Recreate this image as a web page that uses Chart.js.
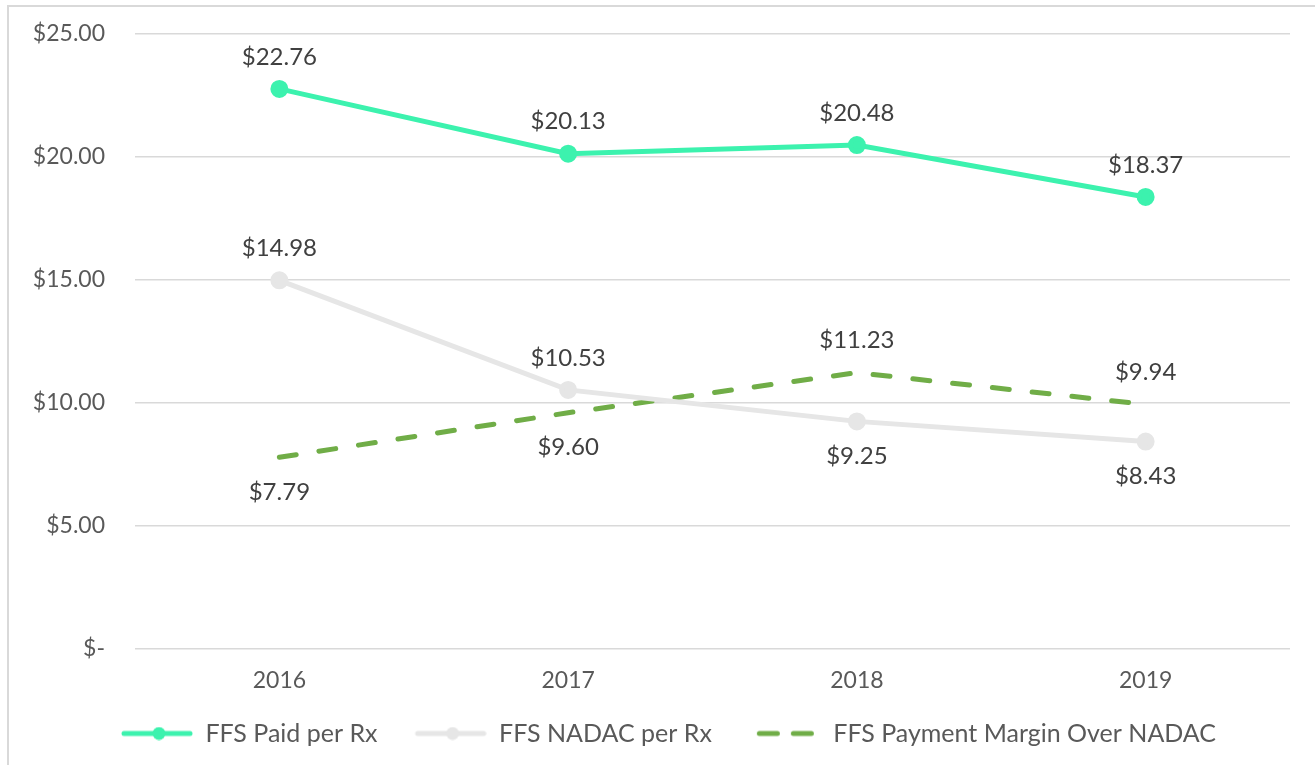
<!DOCTYPE html>
<html lang="en">
<head>
    <meta charset="UTF-8">
    <title>FFS Paid vs NADAC per Rx</title>
    <script src="https://cdn.jsdelivr.net/npm/chart.js"></script>
    <style>
        body { margin: 0; background: #fff; overflow: hidden; }
        #wrap { position: absolute; left: 0; top: 0; width: 1315px; height: 765px; }
        #frame { position: absolute; left: 7px; top: 5px; width: 1400px; height: 900px;
                 border: 2px solid #d9d9d9; pointer-events: none; }
    </style>
</head>
<body>
    <div id="wrap"><canvas id="rxChart"></canvas></div>
    <div id="frame"></div>

    <script>
        // data
        const years = ['2016', '2017', '2018', '2019'];
        const paidPerRx = [22.76, 20.13, 20.48, 18.37];
        const nadacPerRx = [14.98, 10.53, 9.25, 8.43];
        const marginOverNadac = [7.79, 9.60, 11.23, 9.94];
        const yTicks = [0, 5, 10, 15, 20, 25];

        // where each value label sits relative to its point
        const labelSide = [
            ['up', 'up', 'up', 'up'],
            ['up', 'up', 'down', 'down'],
            ['down', 'down', 'up', 'up']
        ];

        const FONT = 'Lato, "Open Sans", sans-serif';
        const money = v => v === 0 ? '$-' : '$' + v.toFixed(2);

        // legend swatch: blank margin on the left (spacing between items), then a 72px line
        const SW_MARGIN = 27;
        const SW_WIDTH = SW_MARGIN + 72;
        function swatch(color, dashed, marker) {
            const c = document.createElement('canvas');
            c.width = SW_WIDTH; c.height = 14;
            const g = c.getContext('2d');
            g.strokeStyle = color;
            g.lineWidth = 5;
            g.lineCap = 'round';
            g.beginPath();
            if (dashed) {
                g.moveTo(SW_MARGIN + 10.5, 7); g.lineTo(SW_MARGIN + 28.5, 7);
                g.moveTo(SW_MARGIN + 44.5, 7); g.lineTo(SW_MARGIN + 62.5, 7);
            } else {
                g.moveTo(SW_MARGIN + 3, 7); g.lineTo(SW_WIDTH - 3, 7);
            }
            g.stroke();
            if (marker) {
                g.fillStyle = color;
                g.beginPath();
                g.arc(SW_MARGIN + 38, 7, 6.5, 0, Math.PI * 2);
                g.fill();
            }
            return c;
        }

        const valueLabels = {
            id: 'valueLabels',
            afterDatasetsDraw(chart) {
                const ctx = chart.ctx;
                ctx.save();
                ctx.font = '24px ' + FONT;
                ctx.fillStyle = '#404040';
                ctx.textAlign = 'center';
                ctx.textBaseline = 'middle';
                chart.data.datasets.forEach((ds, i) => {
                    const meta = chart.getDatasetMeta(i);
                    meta.data.forEach((pt, j) => {
                        const dy = labelSide[i][j] === 'up' ? -32 : 35;
                        ctx.fillText(money(ds.data[j]), pt.x, pt.y + dy);
                    });
                });
                ctx.restore();
            }
        };

        const swatches = [
            swatch('#3cf2ae', false, true),
            swatch('#e6e6e6', false, true),
            swatch('#70ad47', true, false)
        ];

        new Chart(document.getElementById('rxChart'), {
            type: 'line',
            data: {
                labels: years,
                datasets: [{
                    label: 'FFS Paid per Rx',
                    data: paidPerRx,
                    borderColor: '#3cf2ae',
                    backgroundColor: '#3cf2ae',
                    borderWidth: 5,
                    pointRadius: 6.5,
                    pointHoverRadius: 6.5,
                    tension: 0
                }, {
                    label: 'FFS NADAC per Rx',
                    data: nadacPerRx,
                    borderColor: '#e6e6e6',
                    backgroundColor: '#e6e6e6',
                    borderWidth: 5,
                    pointRadius: 6.5,
                    pointHoverRadius: 6.5,
                    tension: 0
                }, {
                    label: 'FFS Payment Margin Over NADAC',
                    data: marginOverNadac,
                    borderColor: '#70ad47',
                    backgroundColor: '#70ad47',
                    borderWidth: 5,
                    borderDash: [17, 23],
                    borderCapStyle: 'round',
                    pointRadius: 0,
                    pointHoverRadius: 0,
                    tension: 0
                }]
            },
            options: {
                responsive: true,
                maintainAspectRatio: false,
                animation: false,
                layout: { padding: { top: 5, right: 25, bottom: 9, left: 20 } },
                plugins: {
                    tooltip: { enabled: false },
                    legend: {
                        position: 'bottom',
                        labels: {
                            usePointStyle: true,
                            pointStyleWidth: SW_WIDTH,
                            padding: 10,
                            color: '#595959',
                            font: { family: FONT, size: 25 },
                            generateLabels(chart) {
                                return chart.data.datasets.map((ds, i) => ({
                                    text: ds.label,
                                    pointStyle: swatches[i],
                                    fillStyle: ds.borderColor,
                                    strokeStyle: ds.borderColor,
                                    lineWidth: 0,
                                    fontColor: '#595959',
                                    hidden: false,
                                    datasetIndex: i
                                }));
                            }
                        }
                    }
                },
                scales: {
                    x: {
                        offset: true,
                        afterFit(scale) { scale.height = 62; },
                        grid: { display: false },
                        border: { display: false },
                        ticks: { color: '#595959', padding: 10, font: { family: FONT, size: 23 } }
                    },
                    y: {
                        min: 0,
                        max: 25,
                        afterFit(scale) { scale.width = 115; },
                        afterBuildTicks(scale) { scale.ticks = yTicks.map(v => ({ value: v })); },
                        grid: { color: '#d9d9d9', lineWidth: 1.5, drawTicks: true, tickLength: 10, tickColor: 'rgba(0,0,0,0)' },
                        border: { display: false },
                        ticks: {
                            color: '#595959',
                            padding: 20,
                            font: { family: FONT, size: 23 },
                            callback: v => money(v)
                        }
                    }
                }
            },
            plugins: [valueLabels]
        });
    </script>
</body>
</html>
